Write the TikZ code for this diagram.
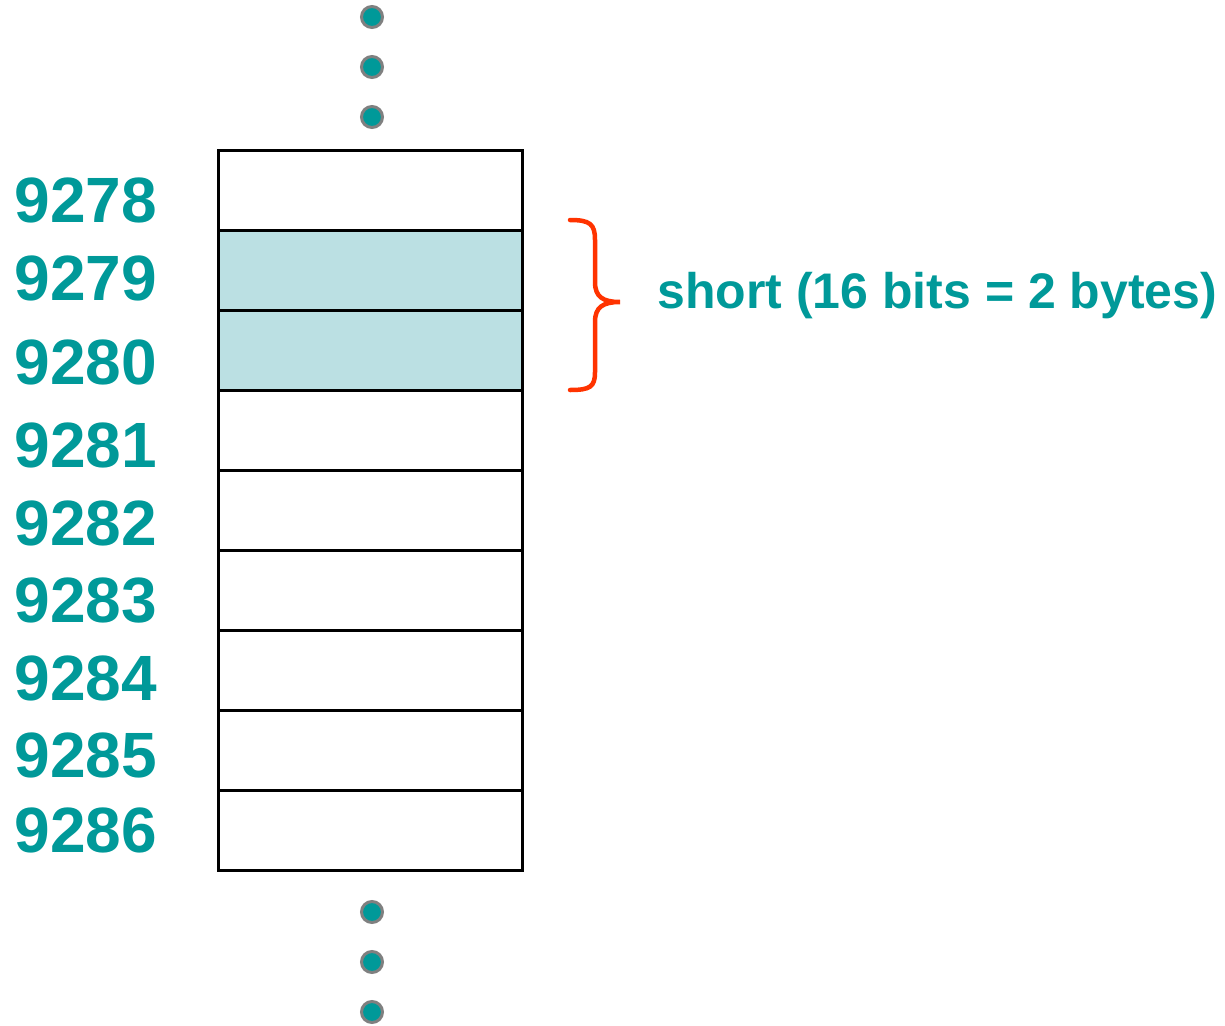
\documentclass[tikz,border=0pt]{standalone}
\usepackage{fontspec}
\setmainfont{Liberation Sans}
\usepackage{tikz}
\usetikzlibrary{positioning}
\definecolor{addrteal}{HTML}{009999}
\definecolor{shortfill}{HTML}{BBE0E3}
\definecolor{braceorange}{HTML}{FF3300}
\tikzstyle{MemCell}=[rectangle, draw=black, fill=white, line width=3pt, minimum width=304pt, minimum height=80pt, outer sep=0pt]
\tikzstyle{ShortCell}=[MemCell, fill=shortfill]
\tikzstyle{AddrNode}=[anchor=east, inner sep=0pt, text=addrteal, font=\fontsize{64}{64}\selectfont\bfseries]
\tikzstyle{DotNode}=[circle, draw=gray, fill=addrteal, line width=3pt, minimum size=21pt, inner sep=0pt]

\begin{document}
\begin{tikzpicture}[x=1pt, y=-1pt, node distance=0pt]
    \useasboundingbox (0,0) rectangle (1225,1025);

    \node (cell0) [MemCell] at (370,190) {};
    \node (cell1) [ShortCell, below=of cell0] {};
    \node (cell2) [ShortCell, below=of cell1] {};
    \node (cell3) [MemCell, below=of cell2] {};
    \node (cell4) [MemCell, below=of cell3] {};
    \node (cell5) [MemCell, below=of cell4] {};
    \node (cell6) [MemCell, below=of cell5] {};
    \node (cell7) [MemCell, below=of cell6] {};
    \node (cell8) [MemCell, below=of cell7] {};

    \node (addr0) [AddrNode] at (157,200) {9278};
    \node (addr1) [AddrNode] at (157,278) {9279};
    \node (addr2) [AddrNode] at (157,362) {9280};
    \node (addr3) [AddrNode] at (157,445) {9281};
    \node (addr4) [AddrNode] at (157,523) {9282};
    \node (addr5) [AddrNode] at (157,601) {9283};
    \node (addr6) [AddrNode] at (157,678) {9284};
    \node (addr7) [AddrNode] at (157,755) {9285};
    \node (addr8) [AddrNode] at (157,830) {9286};

    \node (dotTop1) [DotNode] at (372,17) {};
    \node (dotTop2) [DotNode] at (372,67) {};
    \node (dotTop3) [DotNode] at (372,117) {};
    \node (dotBot1) [DotNode] at (372,912) {};
    \node (dotBot2) [DotNode] at (372,962) {};
    \node (dotBot3) [DotNode] at (372,1012) {};

    % curly brace over the two shaded bytes
    \coordinate (braceTop) at (570,220);
    \coordinate (braceTip) at (620,302);
    \coordinate (braceBot) at (570,390);
    \draw [braceorange, line width=4.5pt, line cap=round]
      (braceTop) .. controls (590,220) and (595,224) .. (595,240) -- (595,282)
      .. controls (595,297) and (603,302) .. (braceTip)
      .. controls (603,302) and (595,307) .. (595,322) -- (595,372)
      .. controls (595,387) and (590,390) .. (braceBot);
    \node (shortText) [anchor=base west, inner sep=0pt, text=addrteal, font=\fontsize{50}{50}\selectfont\bfseries] at (657,308) {short (16 bits = 2 bytes)};
\end{tikzpicture}
\end{document}
